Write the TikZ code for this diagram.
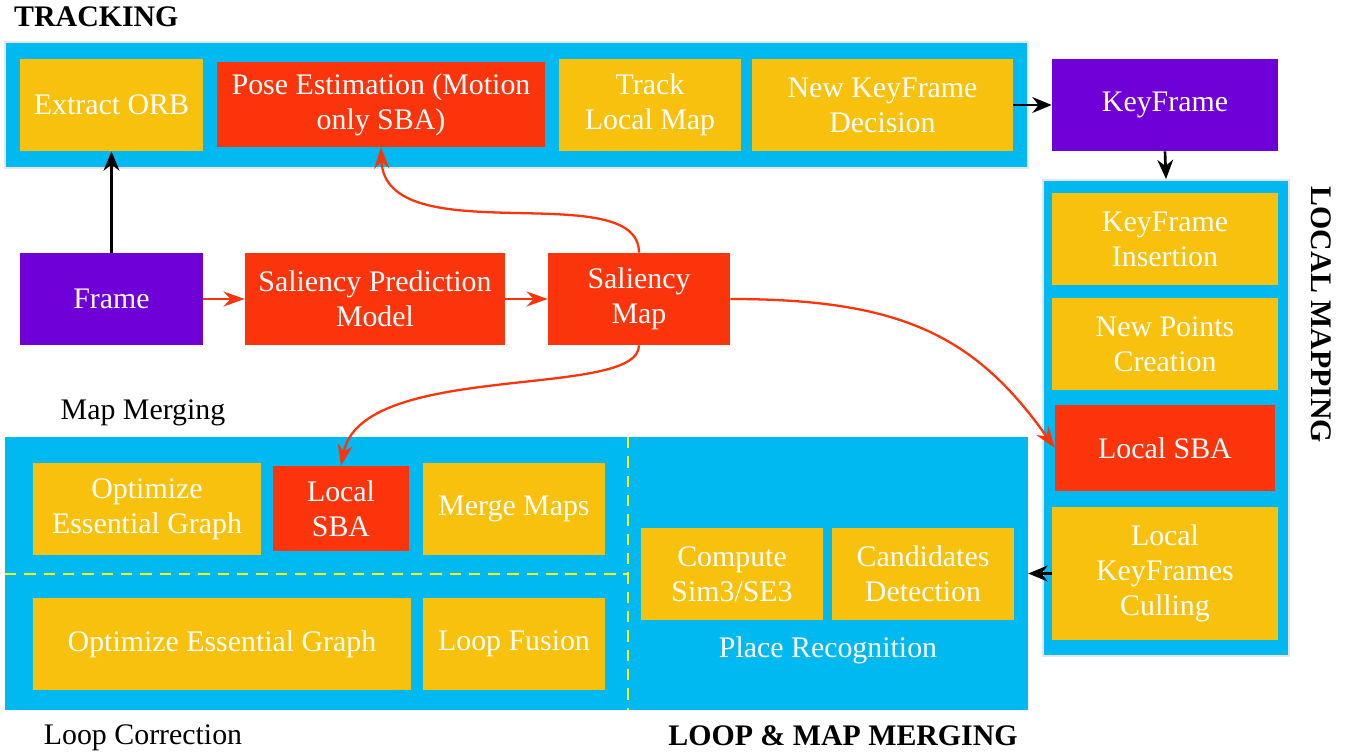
\documentclass[tikz,border=0pt]{standalone}
\usepackage{fontspec}
\setmainfont{Liberation Serif}
\usetikzlibrary{arrows.meta,positioning}
\definecolor{panelblue}{RGB}{0,185,240}
\definecolor{panelgray}{RGB}{230,230,232}
\definecolor{taskyellow}{RGB}{248,193,14}
\definecolor{salred}{RGB}{252,52,12}
\definecolor{framepurple}{RGB}{112,0,216}
\definecolor{divyellow}{RGB}{250,245,20}

\begin{document}
\begin{tikzpicture}[
      x=0.02cm, y=-0.02cm,
      font=\fontsize{17}{20}\selectfont,
      block/.style={
        rectangle,
        inner sep=0pt,
        align=center,
        text=white,
      },
      task/.style={
        block,
        fill=taskyellow,
        minimum width=3.64cm,
        minimum height=1.84cm,
      },
      salient/.style={
        block,
        fill=salred,
        minimum width=3.64cm,
        minimum height=1.84cm,
      },
      input/.style={
        block,
        fill=framepurple,
        minimum width=3.66cm,
        minimum height=1.84cm,
      },
      panel/.style={
        rectangle,
        fill=panelblue,
        inner sep=0pt,
      },
      title/.style={
        font=\fontsize{17}{20}\selectfont\bfseries,
      },
      flow/.style={
        -{Stealth[length=11pt,width=9pt]},
        line width=1.5pt,
      },
      redflow/.style={
        -{Stealth[length=12pt,width=8.5pt]},
        draw=salred,
        line width=1.3pt,
      },
      divider/.style={
        draw=divyellow,
        line width=0.8pt,
        dash pattern=on 6.5pt off 4.5pt,
      },
    ]
    \useasboundingbox (0,0) rectangle (1349,753);
    % panels
    \node[panel, draw=panelgray, line width=1.1pt, minimum width=20.46cm, minimum height=2.52cm] (track-panel) at (516.5,105) {};
    \node[panel, draw=panelgray, line width=1.1pt, minimum width=4.92cm, minimum height=9.52cm] (lm-panel) at (1166,418) {};
    \node[panel, minimum width=20.46cm, minimum height=5.46cm] (lmm-panel) at (516.5,573.5) {};
    \draw[divider] (628,437) -- (628,710);
    \draw[divider] (5,574) -- (628,574);
    % tracking
    \node[task, minimum width=3.66cm] (orb-node) at (111.5,105) {Extract ORB};
    \node[salient, minimum width=6.56cm, minimum height=1.7cm] (pose-node) at (381,104.5) {Pose Estimation (Motion\\only SBA)};
    \node[task] (track-node) at (650,105) {Track\\Local Map};
    \node[task, minimum width=5.22cm] (decision-node) at (882.5,105) {New KeyFrame\\Decision};
    \node[input, minimum width=4.52cm] (keyframe-node) at (1165,105) {KeyFrame};
    % local mapping
    \node[task, minimum width=4.52cm] (insert-node) at (1165,239) {KeyFrame\\Insertion};
    \node[task, minimum width=4.52cm] (points-node) at (1165,344) {New Points\\Creation};
    \node[salient, minimum width=4.4cm, minimum height=1.72cm] (lsba-node) at (1165,448) {Local SBA};
    \node[task, minimum width=4.52cm, minimum height=2.66cm] (culling-node) at (1165,573.5) {Local\\KeyFrames\\Culling};
    % saliency
    \node[input] (frame-node) at (111.5,299) {Frame};
    \node[salient, minimum width=5.2cm] (model-node) at (375,299) {Saliency Prediction\\Model};
    \node[salient] (smap-node) at (639,299) {Saliency\\Map};
    % loop and map merging
    \node[task, minimum width=4.56cm] (opt-top-node) at (147,509) {Optimize\\Essential Graph};
    \node[salient, minimum width=2.72cm, minimum height=1.7cm] (msba-node) at (341,508.5) {Local\\SBA};
    \node[task] (merge-node) at (514,509) {Merge Maps};
    \node[task, minimum width=7.56cm] (opt-bot-node) at (222,644) {Optimize Essential Graph};
    \node[task] (fusion-node) at (514,644) {Loop Fusion};
    \node[task] (sim3-node) at (732,574) {Compute\\Sim3/SE3};
    \node[task] (cand-node) at (923,574) {Candidates\\Detection};
    \node[text=white] (place-label) at (828,650) {Place Recognition};
    % labels
    \node[title, anchor=west] (track-title) at (8,17) {TRACKING};
    \node[title, rotate=-90] (lm-title) at (1321,315) {LOCAL MAPPING};
    \node[title] (lmm-title) at (843,736) {LOOP \& MAP MERGING};
    \node (merging-label) at (143,413) {Map Merging};
    \node (correction-label) at (143,738) {Loop Correction};
    % connectors
    \draw[flow] (frame-node.north) -- (orb-node.south);
    \draw[flow] (decision-node.east) -- (keyframe-node.west);
    \draw[flow] (keyframe-node.south) -- (lm-panel.north);
    \draw[flow] (culling-node.west) -- (culling-node.west -| lmm-panel.east);
    \draw[redflow] (frame-node.east) -- (model-node.west);
    \draw[redflow] (model-node.east) -- (smap-node.west);
    \draw[redflow] (smap-node.north) .. controls (639,175) and (385,255) .. (pose-node.south);
    \draw[redflow] (smap-node.south) .. controls (639,400) and (362,360) .. (msba-node.north);
    \draw[redflow] (smap-node.east) .. controls (900,299) and (975,335) .. (lsba-node.west);
\end{tikzpicture}
\end{document}
